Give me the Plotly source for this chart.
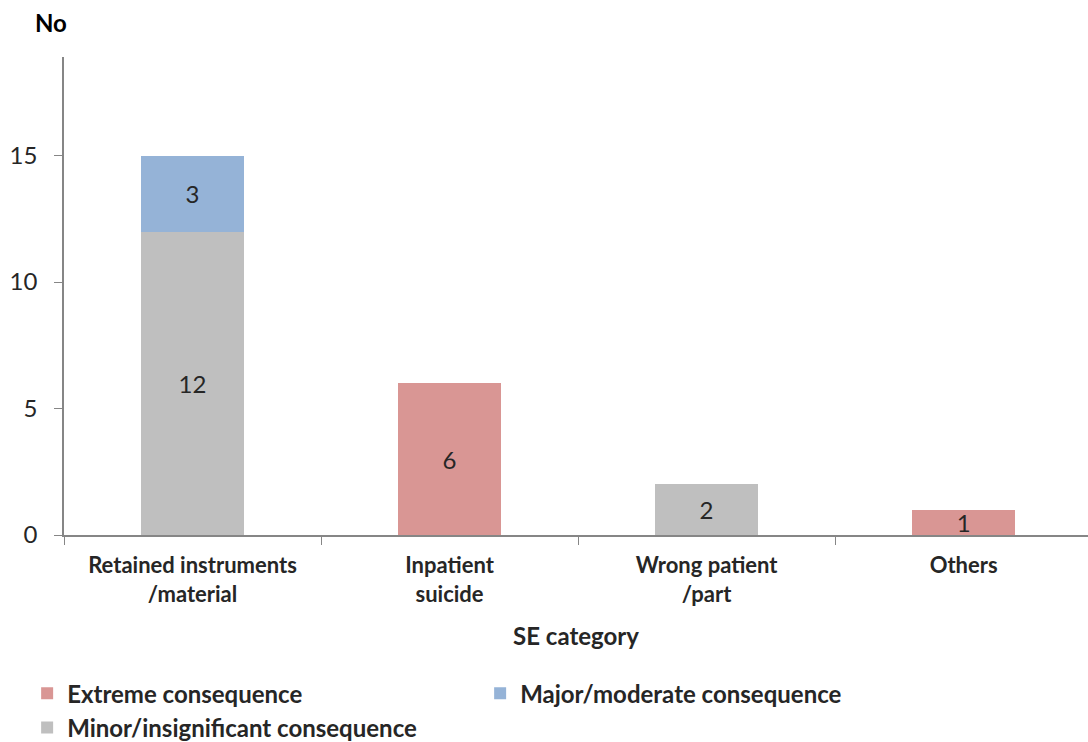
import plotly.graph_objects as go

categories = ["Retained instruments<br>/material", "Inpatient<br>suicide", "Wrong patient<br>/part", "Others"]
extreme = [0, 6, 0, 1]
major = [3, 0, 0, 0]
minor = [12, 0, 2, 0]

FONT = "Lato"
TXT = "#262626"

def labels(vals):
    return [str(v) if v else "" for v in vals]

fig = go.Figure()
series = [
    ("Minor/insignificant consequence", minor, "#BFBFBF", 3),
    ("Major/moderate consequence", major, "#95B3D7", 2),
    ("Extreme consequence", extreme, "#D99694", 1),
]
for name, vals, color, rank in series:
    fig.add_trace(go.Bar(
        x=categories, y=vals, name=name, marker=dict(color=color, line=dict(width=0)),
        width=0.4, text=labels(vals), textposition="inside", insidetextanchor="middle",
        textangle=0, constraintext="none", textfont=dict(family=FONT, size=24, color=TXT),
        legendrank=rank, hoverinfo="skip",
    ))

fig.update_layout(
    barmode="stack",
    width=1088, height=742,
    margin=dict(l=64, r=0, t=57, b=207, autoexpand=False),
    paper_bgcolor="white", plot_bgcolor="white",
    font=dict(family=FONT, color=TXT),
    showlegend=True,
    legend=dict(
        orientation="h", x=-0.036, xanchor="left", y=-0.285, yanchor="top",
        entrywidth=408, entrywidthmode="pixels", traceorder="normal",
        font=dict(family=FONT, size=24, color=TXT, weight="bold"),
        itemsizing="constant", tracegroupgap=0,
    ),
)
fig.update_xaxes(
    range=[-0.5, 3.484], showline=True, linecolor="#868686", linewidth=1.5,
    ticks="outside", tickson="boundaries", ticklen=8, tickcolor="#868686",
    ticklabelstandoff=10,
    tickfont=dict(family=FONT, size=22, color=TXT, weight="bold"),
    title=dict(text="SE category", font=dict(family=FONT, size=24, color=TXT, weight="bold"), standoff=22),
    showgrid=False, zeroline=False,
)
fig.update_yaxes(
    range=[0, 18.9], tickvals=[0, 5, 10, 15], showline=True, linecolor="#868686", linewidth=1.5,
    ticks="outside", ticklen=8, tickcolor="#868686", ticklabelstandoff=12,
    tickfont=dict(family=FONT, size=24, color=TXT),
    showgrid=False, zeroline=False,
)
fig.add_annotation(
    text="No", xref="paper", yref="paper", x=-0.013, y=1.072, xanchor="center", yanchor="middle",
    showarrow=False, font=dict(family=FONT, size=24, color="#000000", weight="bold"),
)

fig.write_html("out.html")
